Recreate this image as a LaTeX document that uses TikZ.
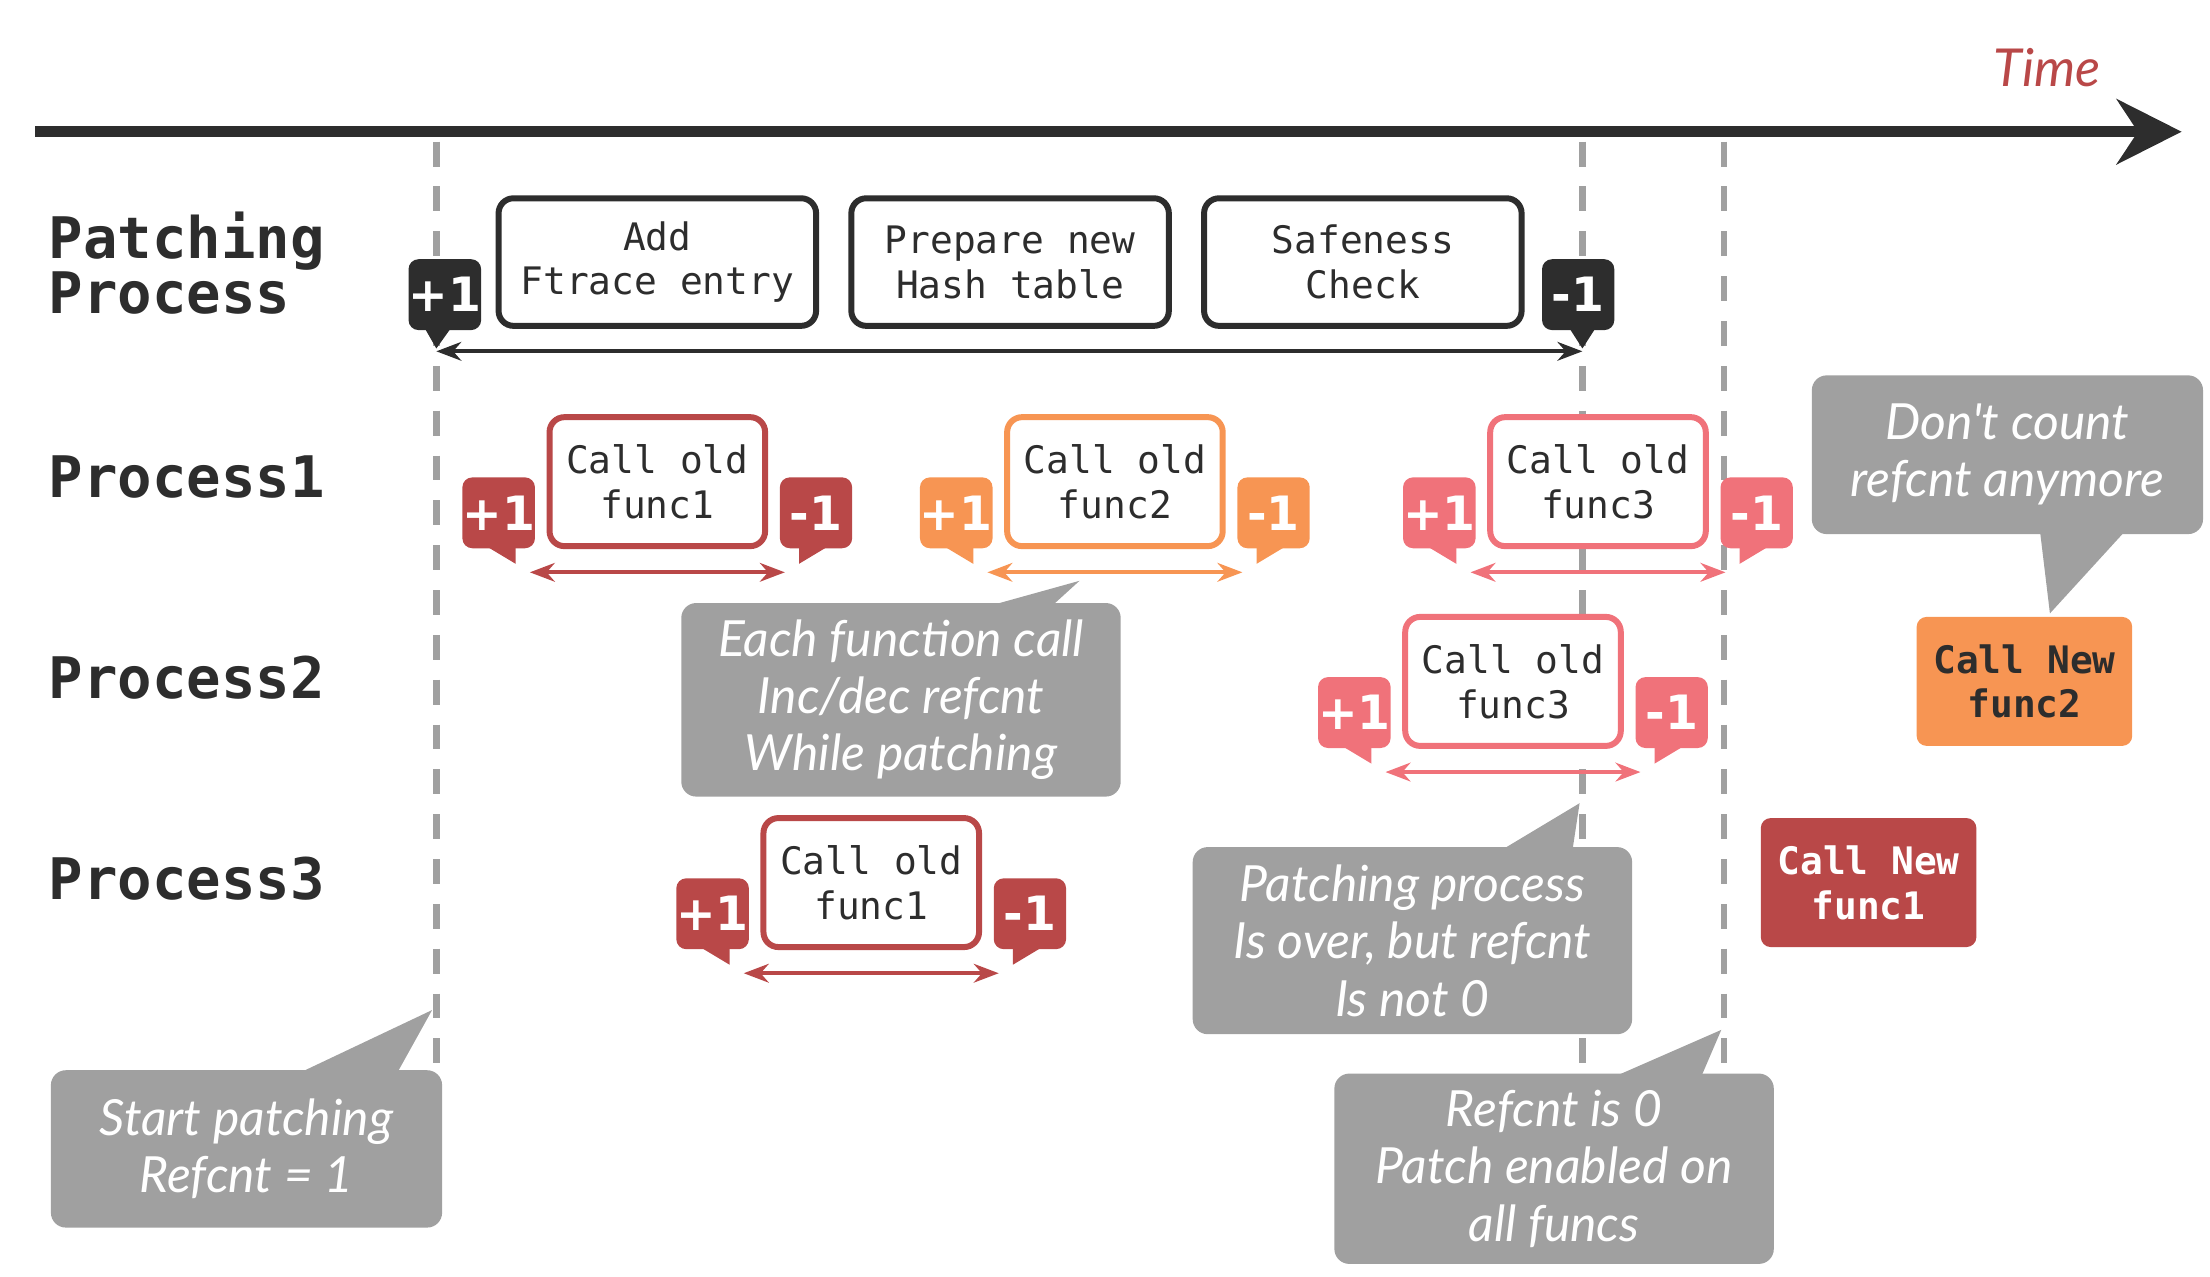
\documentclass[tikz,border=0pt]{standalone}
\usepackage{fontspec}
\setmainfont{DejaVu Sans}
\setmonofont{DejaVu Sans Mono}
\newfontfamily\handfont{Lato Italic}
\usetikzlibrary{arrows.meta,calc}
\definecolor{cred}{RGB}{185,72,72}
\definecolor{corange}{RGB}{247,149,83}
\definecolor{cpink}{RGB}{240,114,122}
\definecolor{cgray}{RGB}{160,160,160}
\definecolor{cdark}{RGB}{45,45,45}
\begin{document}
\begin{tikzpicture}[x=0.01cm,y=-0.01cm]
\tikzset{
  proc/.style={anchor=west,font=\ttfamily\bfseries\fontsize{11.5}{11}\selectfont,align=left,cdark},
  phase/.style={draw=cdark,line width=1.2pt,rounded corners=3pt,minimum width=2.24cm,minimum height=0.9cm,
    align=center,font=\ttfamily\fontsize{7.6}{9}\selectfont,text=cdark},
  oldbox/.style={draw=#1,line width=1.2pt,rounded corners=3pt,fill=white,minimum width=1.49cm,minimum height=0.91cm,
    align=center,font=\ttfamily\fontsize{7.6}{9}\selectfont,text=cdark},
  newbox/.style={fill=#1,rounded corners=2pt,minimum width=1.5cm,minimum height=0.91cm,
    align=center,font=\ttfamily\bfseries\fontsize{7.6}{9}\selectfont},
  badge/.style={fill=#1,rounded corners=2pt,minimum width=0.51cm,minimum height=0.5cm,inner sep=0pt,
    text=white,font=\bfseries\fontsize{9.5}{10}\selectfont},
  span/.style={#1,line width=0.8pt,{Stealth[length=5pt]}-{Stealth[length=5pt]}},
  note/.style={fill=cgray,rounded corners=3pt,align=center,text=white,font=\handfont\fontsize{10}{11.5}\selectfont},
  guide/.style={cgray,line width=1.3pt,dash pattern=on 5pt off 4pt}
}
\useasboundingbox (0,0) rectangle (1560,901);

% time axis
\coordinate (t0) at (25,93);
\coordinate (t1) at (1540,93);
\draw[cdark,line width=2.2pt,-{Stealth[length=13pt,width=13pt]}] (t0) -- (t1);
\node[cred,font=\handfont\fontsize{10.5}{11}\selectfont] (time) at (1445,48) {Time};

% guide lines
\draw[guide] (308,100) -- (308,760);
\draw[guide] (1117,100) -- (1117,760);
\draw[guide] (1217,100) -- (1217,760);

% row labels
\node[proc] (lpatch) at (22,186) {Patching\\Process};
\node[proc] (lp1) at (22,337) {Process1};
\node[proc] (lp2) at (22,478) {Process2};
\node[proc] (lp3) at (22,620) {Process3};

% patching steps
\node[phase] (s1) at (464,185) {Add\\Ftrace entry};
\node[phase] (s2) at (713,185) {Prepare new\\Hash table};
\node[phase] (s3) at (962,185) {Safeness\\Check};
\node[badge=cdark] (pb) at (314,208) {+1};
\node[badge=cdark] (mb) at (1114,208) {-1};
\fill[cdark] (300,232) -- (318,232) -- (308,246) -- cycle;
\fill[cdark] (1108,232) -- (1126,232) -- (1117,246) -- cycle;
\coordinate (pa) at (308,248);
\coordinate (pe) at (1117,248);
\draw[span=cdark] (pa) -- (pe);

% calls with old functions
\foreach \nm/\x/\y/\col/\txt in {a/464/340/cred/func1, b/787/340/corange/func2, c/1128/340/cpink/func3,
                                 d/1068/481/cpink/func3, e/615/623/cred/func1}{
  \node[oldbox=\col] (c\nm) at (\x,\y) {Call old\\\txt};
  \node[badge=\col] (p\nm) at ($(c\nm)+(-112,22)$) {+1};
  \node[badge=\col] (m\nm) at ($(c\nm)+(112,22)$) {-1};
  \fill[\col] ($(c\nm)+(-120,46)$) -- ($(c\nm)+(-100,46)$) -- ($(c\nm)+(-100,58)$) -- cycle;
  \fill[\col] ($(c\nm)+(120,46)$) -- ($(c\nm)+(100,46)$) -- ($(c\nm)+(100,58)$) -- cycle;
  \coordinate (l\nm) at ($(c\nm)+(-90,64)$);
  \coordinate (r\nm) at ($(c\nm)+(90,64)$);
  \draw[span=\col] (l\nm) -- (r\nm);
}

% calls with new functions
\node[newbox=corange,text=cdark] (n2) at (1429,481) {Call New\\func2};
\node[newbox=cred,text=white] (n1) at (1319,623) {Call New\\func1};

% notes
\fill[cgray] (690,430) -- (740,430) -- (762,410) -- cycle;
\node[note,minimum width=3.1cm,minimum height=1.32cm] (note1) at (636,494)
  {Each function call\\Inc/dec refcnt\\While patching};
\fill[cgray] (1440,375) -- (1500,375) -- (1447,433) -- cycle;
\node[note,minimum width=2.76cm,minimum height=1.12cm] (note2) at (1417,321)
  {Don't count\\refcnt anymore};
\fill[cgray] (1060,600) -- (1110,600) -- (1115,567) -- cycle;
\node[note,minimum width=3.1cm,minimum height=1.32cm] (note3) at (997,664)
  {Patching process\\Is over, but refcnt\\Is not 0};
\fill[cgray] (210,758) -- (280,758) -- (305,713) -- cycle;
\node[note,minimum width=2.76cm,minimum height=1.11cm] (note4) at (174,811)
  {Start patching\\Refcnt = 1};
\fill[cgray] (1135,762) -- (1200,762) -- (1215,727) -- cycle;
\node[note,minimum width=3.1cm,minimum height=1.31cm] (note5) at (1097,825)
  {Refcnt is 0\\Patch enabled on\\all funcs};
\end{tikzpicture}
\end{document}
